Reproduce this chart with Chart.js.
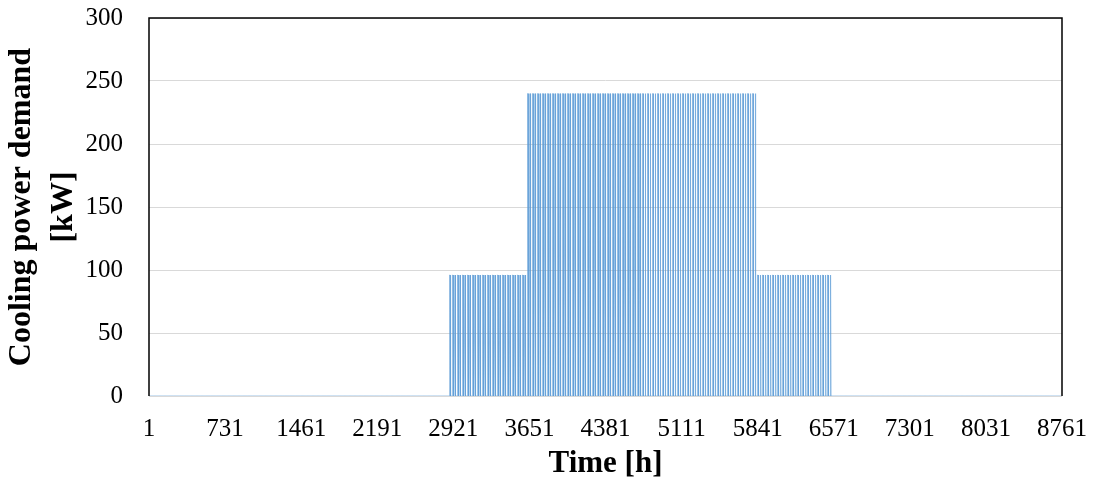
<!DOCTYPE html>
<html>
<head>
<meta charset="utf-8">
<script src="https://cdn.jsdelivr.net/npm/chart.js@4/dist/chart.umd.min.js"></script>
<style>
  html, body { margin: 0; padding: 0; background: #ffffff; }
  #wrap { width: 1094px; height: 481px; position: relative; }
</style>
</head>
<body>
<div id="wrap"><canvas id="c" width="1094" height="481"></canvas></div>
<script>
// Days in each month of the simulated year
const monthDays = [31, 28, 31, 30, 31, 30, 31, 31, 30, 31, 30, 31];
// Cooling load while the plant is running, per month [kW]
const monthlyLoadKW = [0, 0, 0, 0, 96, 240, 240, 240, 96, 0, 0, 0];
// Operating hours within a day (1 = cooling on)
const dailySchedule = [0, 0, 0, 0, 0, 0, 0, 0, 1, 1, 1, 1, 1, 1, 1, 1, 0, 0, 0, 0, 0, 0, 0, 0];
// Axis tick labels
const hourTicks = [1, 731, 1461, 2191, 2921, 3651, 4381, 5111, 5841, 6571, 7301, 8031, 8761];
const powerTicks = [0, 50, 100, 150, 200, 250, 300];

// Hourly demand series built from the month loads and the daily schedule
const hourly = [];
let h = 1;
monthDays.forEach((days, m) => {
  for (let d = 0; d < days; d++) {
    dailySchedule.forEach(on => {
      hourly.push({ x: h, y: on * monthlyLoadKW[m] });
      h++;
    });
  }
});

const serif = "'Liberation Serif', 'Times New Roman', serif";

// Black frame on the left, top and right of the plot area
const frame = {
  id: 'frame',
  afterDatasetsDraw(chart) {
    const { ctx, chartArea: a } = chart;
    ctx.save();
    ctx.strokeStyle = '#000000';
    ctx.lineWidth = 1.5;
    ctx.beginPath();
    ctx.moveTo(a.left, a.bottom);
    ctx.lineTo(a.left, a.top);
    ctx.lineTo(a.right, a.top);
    ctx.lineTo(a.right, a.bottom);
    ctx.stroke();
    ctx.restore();
  }
};

new Chart(document.getElementById('c'), {
  type: 'line',
  data: {
    datasets: [{
      data: hourly,
      borderColor: '#5B9BD5',
      borderWidth: 0.6,
      pointRadius: 0,
      fill: false,
      tension: 0
    }]
  },
  options: {
    responsive: false,
    animation: false,
    parsing: false,
    normalized: true,
    events: [],
    layout: { padding: { left: 0, right: 32, top: 18, bottom: 0 } },
    plugins: { legend: { display: false }, tooltip: { enabled: false } },
    scales: {
      x: {
        type: 'linear',
        min: 1,
        max: 8761,
        afterFit(scale) {
          scale.height = 85;
          scale.paddingLeft = 0;
          scale.paddingRight = 0;
        },
        afterBuildTicks(scale) { scale.ticks = hourTicks.map(v => ({ value: v })); },
        grid: { display: false, drawTicks: false },
        border: { display: false },
        ticks: {
          autoSkip: false,
          maxRotation: 0,
          padding: 18,
          color: '#000000',
          font: { family: serif, size: 25 },
          callback: v => String(v)
        },
        title: {
          display: true,
          text: 'Time [h]',
          color: '#000000',
          padding: { top: 0, bottom: 0 },
          font: { family: serif, size: 31, weight: 'bold', lineHeight: 1.1 }
        }
      },
      y: {
        min: 0,
        max: 300,
        afterFit(scale) {
          scale.width = 149;
          scale.paddingTop = 0;
          scale.paddingBottom = 0;
        },
        afterBuildTicks(scale) { scale.ticks = powerTicks.map(v => ({ value: v })); },
        grid: { color: '#d9d9d9', lineWidth: 1, drawTicks: false },
        border: { display: false },
        ticks: {
          padding: 26,
          color: '#000000',
          font: { family: serif, size: 25 },
          callback: v => String(v)
        },
        title: {
          display: true,
          text: ['Cooling power demand', '[kW]'],
          color: '#000000',
          padding: { top: 1, bottom: 0 },
          font: { family: serif, size: 32, weight: 'bold', lineHeight: 1.3 }
        }
      }
    }
  },
  plugins: [frame]
});
</script>
</body>
</html>
